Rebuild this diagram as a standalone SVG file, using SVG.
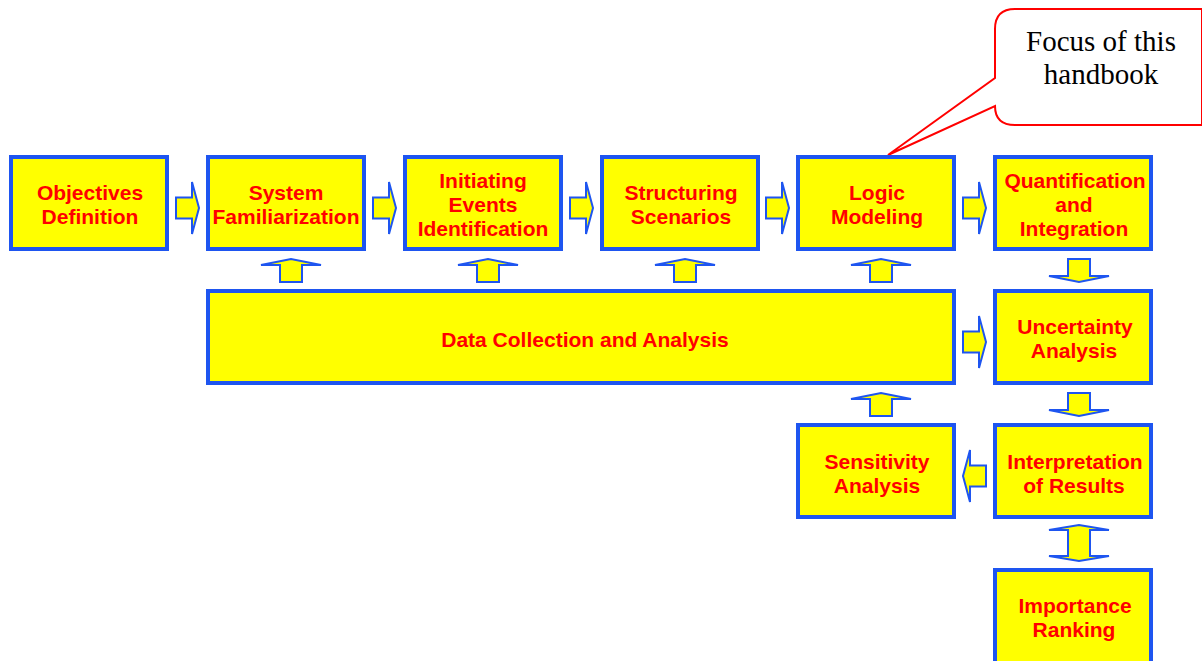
<svg xmlns="http://www.w3.org/2000/svg" width="1202" height="661" viewBox="0 0 1202 661">
<style>
.box{fill:#FFFF00;stroke:#1E55F0;stroke-width:4}
.t{font-family:"Liberation Sans",Arial,sans-serif;font-weight:bold;font-size:21px;fill:#FF0000;text-anchor:middle}
.arr{fill:#FFFF00;stroke:#1E55F0;stroke-width:2;stroke-linejoin:miter}
.callout{fill:#FFFFFF;stroke:#FF0000;stroke-width:2}
.ct{font-family:"Liberation Serif","Times New Roman",serif;font-size:29px;fill:#000;text-anchor:middle}
</style>
<defs>
<path id="ar" d="M-23,-10.5 H-7 V-26 L0,0 L-7,26 V10.5 H-23 Z"/>
<path id="au" d="M-11,23 V6 H-30 L0,0 L30,6 H11 V23 Z"/>
<path id="ad" d="M-11,-23 V-6 H-30 L0,0 L30,-6 H11 V-23 Z"/>
<path id="al" d="M23,-10.5 H7 V-26 L0,0 L7,26 V10.5 H23 Z"/>
<path id="ab" d="M-11,-11 V-13 H-30 L0,-18 L30,-13 H11 V13 H30 L0,18 L-30,13 H-11 Z"/>
</defs>
<rect width="1202" height="661" fill="#FFFFFF"/>
<g id="callout">
<path class="callout" d="M1015,9 H1202 V125 H1015 Q995,125 995,106 L888,155 L995,78 V29 Q995,9 1015,9 Z"/>
<text class="ct" x="1101" y="51">Focus of this</text>
<text class="ct" x="1101" y="84">handbook</text>
</g>
<g id="objectives"><rect class="box" x="11" y="157" width="156" height="92"/><text class="t" x="90" y="200">Objectives</text><text class="t" x="90" y="224">Definition</text></g>
<g id="system"><rect class="box" x="208" y="157" width="156" height="92"/><text class="t" x="286" y="200">System</text><text class="t" x="286" y="224">Familiarization</text></g>
<g id="initiating"><rect class="box" x="405" y="157" width="156" height="92"/><text class="t" x="483" y="188">Initiating</text><text class="t" x="483" y="212">Events</text><text class="t" x="483" y="236">Identification</text></g>
<g id="structuring"><rect class="box" x="602" y="157" width="156" height="92"/><text class="t" x="681" y="200">Structuring</text><text class="t" x="681" y="224">Scenarios</text></g>
<g id="logic"><rect class="box" x="798" y="157" width="156" height="92"/><text class="t" x="877" y="200">Logic</text><text class="t" x="877" y="224">Modeling</text></g>
<g id="quantification"><rect class="box" x="995" y="157" width="156" height="92"/><text class="t" x="1075" y="188">Quantification</text><text class="t" x="1074" y="212">and</text><text class="t" x="1074" y="236">Integration</text></g>
<g id="data"><rect class="box" x="208" y="291" width="746" height="92"/><text class="t" x="585" y="347">Data Collection and Analysis</text></g>
<g id="uncertainty"><rect class="box" x="995" y="291" width="156" height="92"/><text class="t" x="1075" y="334">Uncertainty</text><text class="t" x="1074" y="358">Analysis</text></g>
<g id="sensitivity"><rect class="box" x="798" y="425" width="156" height="92"/><text class="t" x="877" y="469">Sensitivity</text><text class="t" x="877" y="493">Analysis</text></g>
<g id="interpretation"><rect class="box" x="995" y="425" width="156" height="92"/><text class="t" x="1075" y="469">Interpretation</text><text class="t" x="1074" y="493">of Results</text></g>
<g id="importance"><rect class="box" x="995" y="570" width="156" height="100"/><text class="t" x="1075" y="613">Importance</text><text class="t" x="1074" y="637">Ranking</text></g>
<g id="connectors">
<use href="#ar" class="arr" transform="translate(199,208)"/>
<use href="#ar" class="arr" transform="translate(396,208)"/>
<use href="#ar" class="arr" transform="translate(593,208)"/>
<use href="#ar" class="arr" transform="translate(789,208)"/>
<use href="#ar" class="arr" transform="translate(986,208)"/>
<use href="#ar" class="arr" transform="translate(986,342)"/>
<use href="#au" class="arr" transform="translate(291,259)"/>
<use href="#au" class="arr" transform="translate(488,259)"/>
<use href="#au" class="arr" transform="translate(685,259)"/>
<use href="#au" class="arr" transform="translate(881,259)"/>
<use href="#au" class="arr" transform="translate(881,393)"/>
<use href="#ad" class="arr" transform="translate(1079,282)"/>
<use href="#ad" class="arr" transform="translate(1079,416)"/>
<use href="#al" class="arr" transform="translate(963,476)"/>
<use href="#ab" class="arr" transform="translate(1079,543)"/>
</g>
</svg>
